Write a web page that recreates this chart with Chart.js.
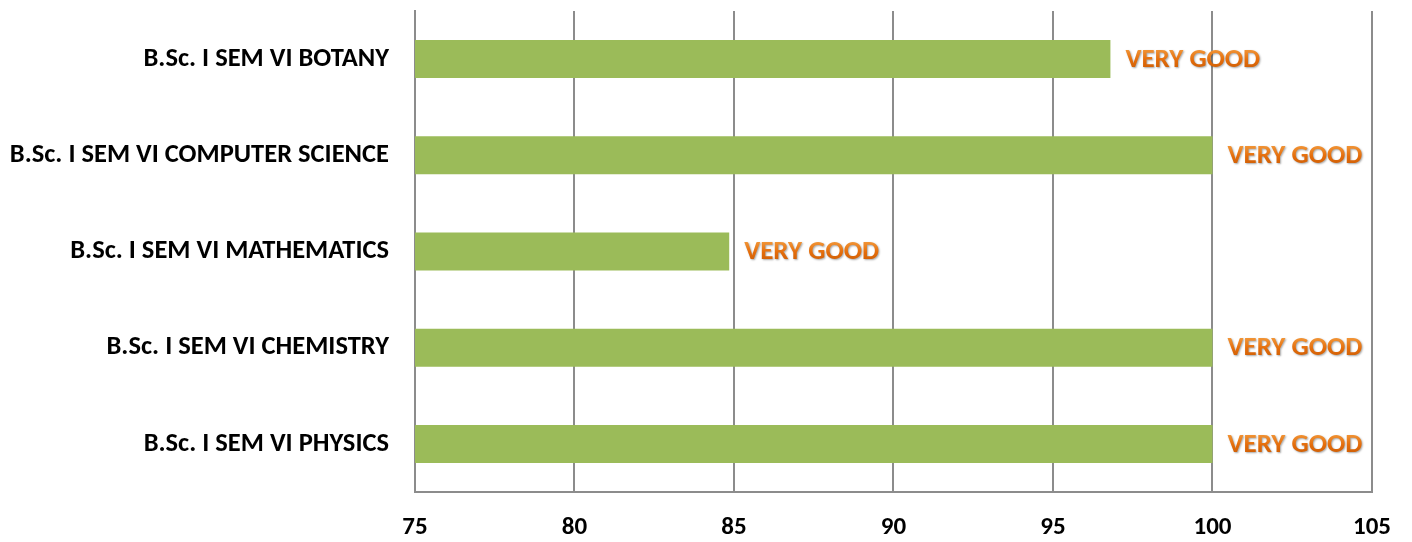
<!DOCTYPE html>
<html>
<head>
<meta charset="utf-8">
<script src="https://cdn.jsdelivr.net/npm/chart.js@4/dist/chart.umd.min.js"></script>
<style>
  html, body { margin: 0; padding: 0; background: #fff; }
  #wrap { width: 1412px; height: 542px; position: relative; }
</style>
</head>
<body>
<div id="wrap"><canvas id="chart"></canvas></div>
<script>
const categories = [
    'B.Sc. I SEM VI BOTANY',
    'B.Sc. I SEM VI COMPUTER SCIENCE',
    'B.Sc. I SEM VI MATHEMATICS',
    'B.Sc. I SEM VI CHEMISTRY',
    'B.Sc. I SEM VI PHYSICS'
];
const scores = [96.8, 100, 84.85, 100, 100];
const remarks = ['VERY GOOD', 'VERY GOOD', 'VERY GOOD', 'VERY GOOD', 'VERY GOOD'];
const xTicks = [75, 80, 85, 90, 95, 100, 105];

const labelFont = 'Carlito, Calibri, Lato, sans-serif';

// writes the remark next to the end of each bar
const remarkLabels = {
    id: 'remarkLabels',
    afterDatasetsDraw(chart) {
        const ctx = chart.ctx;
        const meta = chart.getDatasetMeta(0);
        ctx.save();
        ctx.font = 'bold 27px ' + labelFont;
        ctx.textBaseline = 'middle';
        ctx.textAlign = 'left';
        meta.data.forEach((bar, i) => {
            const x = bar.x + 15;
            const y = bar.y + 1;
            ctx.shadowColor = 'rgba(0,0,0,0.35)';
            ctx.shadowOffsetX = 1;
            ctx.shadowOffsetY = 1;
            ctx.shadowBlur = 2;
            const grad = ctx.createLinearGradient(0, y - 12, 0, y + 12);
            grad.addColorStop(0, '#f39a3c');
            grad.addColorStop(0.5, '#e46c0a');
            grad.addColorStop(1, '#c65a05');
            ctx.fillStyle = grad;
            ctx.fillText(remarks[i], x, y);
        });
        ctx.restore();
    }
};

new Chart(document.getElementById('chart'), {
    type: 'bar',
    data: {
        labels: categories,
        datasets: [{
            data: scores,
            backgroundColor: '#9bbb59',
            borderWidth: 0,
            barPercentage: 0.395,
            categoryPercentage: 1
        }]
    },
    plugins: [remarkLabels],
    options: {
        indexAxis: 'y',
        responsive: true,
        maintainAspectRatio: false,
        animation: false,
        layout: { padding: { top: 11, right: 40, left: 0, bottom: 0 } },
        plugins: {
            legend: { display: false },
            tooltip: { enabled: false }
        },
        scales: {
            x: {
                min: 75,
                max: 105,
                afterBuildTicks: (axis) => { axis.ticks = xTicks.map(v => ({ value: v })); },
                grid: { color: '#8c8c8c', lineWidth: 2, drawTicks: false },
                border: { color: '#8c8c8c', width: 2 },
                ticks: {
                    color: '#000',
                    padding: 21,
                    font: { family: labelFont, size: 25, weight: 'bold' }
                },
                afterFit: (axis) => {
                    axis.height = 50;
                    axis.paddingTop = 0;
                    axis.paddingBottom = 0;
                }
            },
            y: {
                grid: { display: false, drawTicks: false },
                border: { color: '#8c8c8c', width: 2 },
                ticks: {
                    color: '#000',
                    padding: 26,
                    font: { family: labelFont, size: 26.5, weight: 'bold' }
                },
                afterFit: (axis) => {
                    axis.width = 415;
                    axis.paddingTop = 0;
                    axis.paddingBottom = 0;
                }
            }
        }
    }
});
</script>
</body>
</html>
